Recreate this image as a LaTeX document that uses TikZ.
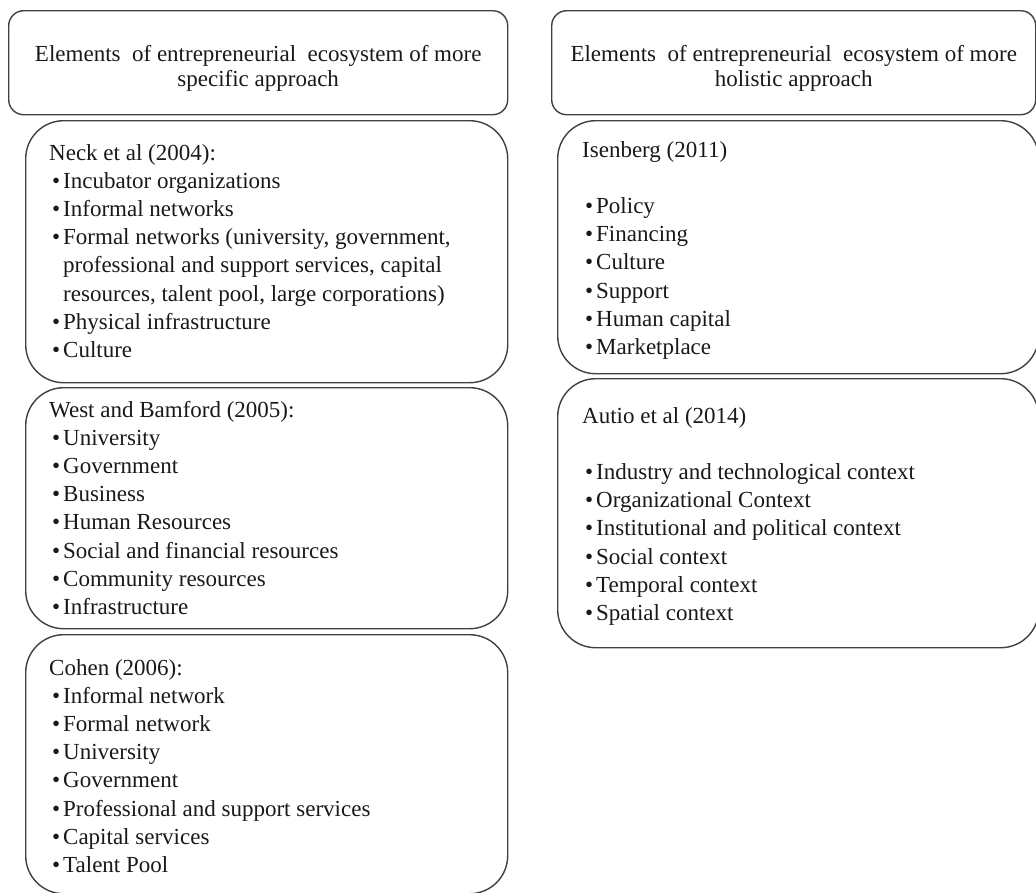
\documentclass[tikz,border=0pt]{standalone}
\usepackage{fontspec}
\setmainfont{Liberation Serif}
\newcommand\itm[1]{\par\hangindent=14pt\hangafter=1\noindent\hspace*{3pt}\makebox[11pt][l]{\textbullet}#1}
\newcommand\boxtext[2]{\parbox[t]{#1}{\raggedright\fontsize{23pt}{28.2pt}\selectfont #2}}
\begin{document}
\begin{tikzpicture}[x=1pt,y=-1pt,
  frame/.style={draw=black!75, line width=1.4pt, rectangle, anchor=north west, inner sep=0pt},
  head/.style={frame, rounded corners=15pt},
  group/.style={frame, rounded corners=38pt},
  heading/.style={align=center, text=black!90, font=\fontsize{23pt}{25pt}\selectfont},
  list/.style={anchor=base west, inner sep=0pt, text=black!90}]
\useasboundingbox (0,0) rectangle (1036,892);
\clip (0,0) rectangle (1036,892);

% column headings
\node[head, minimum width=499pt, minimum height=104pt] (hdrL) at (8,10) {};
\node[head, minimum width=484pt, minimum height=104pt] (hdrR) at (551,10) {};
\node[heading] (hdrLt) at ([yshift=-6pt]hdrL.center) {Elements\ \ of entrepreneurial\ \ ecosystem of more\\specific approach};
\node[heading] (hdrRt) at ([yshift=-6pt]hdrR.center) {Elements\ \ of entrepreneurial\ \ ecosystem of more\\holistic approach};

% specific approach
\node[group, minimum width=482pt, minimum height=262pt] (neck) at (25,120) {};
\node[group, minimum width=482pt, minimum height=241pt] (west) at (25,387) {};
\node[group, minimum width=482pt, minimum height=259pt] (cohen) at (25,634) {};

% holistic approach
\node[group, minimum width=481pt, minimum height=253pt] (isen) at (557,120) {};
\node[group, minimum width=481pt, minimum height=269pt] (autio) at (557,378) {};

\node[list] (neckt) at (49,160) {\boxtext{450pt}{Neck et al (2004):
  \itm{Incubator organizations}
  \itm{Informal networks}
  \itm{Formal networks (university, government,\newline professional and support services, capital\newline resources, talent pool, large corporations)}
  \itm{Physical infrastructure}
  \itm{Culture}}};

\node[list] (westt) at (49,417) {\boxtext{450pt}{West and Bamford (2005):
  \itm{University}
  \itm{Government}
  \itm{Business}
  \itm{Human Resources}
  \itm{Social and financial resources}
  \itm{Community resources}
  \itm{Infrastructure}}};

\node[list] (cohent) at (49,675) {\boxtext{450pt}{Cohen (2006):
  \itm{Informal network}
  \itm{Formal network}
  \itm{University}
  \itm{Government}
  \itm{Professional and support services}
  \itm{Capital services}
  \itm{Talent Pool}}};

\node[list] (isent) at (582,157) {\boxtext{430pt}{Isenberg (2011)\par\mbox{}
  \itm{Policy}
  \itm{Financing}
  \itm{Culture}
  \itm{Support}
  \itm{Human capital}
  \itm{Marketplace}}};

\node[list] (autiot) at (582,423) {\boxtext{430pt}{Autio et al (2014)\par\mbox{}
  \itm{Industry and technological context}
  \itm{Organizational Context}
  \itm{Institutional and political context}
  \itm{Social context}
  \itm{Temporal context}
  \itm{Spatial context}}};
\end{tikzpicture}
\end{document}
